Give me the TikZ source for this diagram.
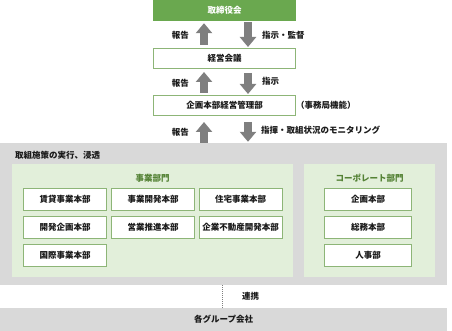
\documentclass[tikz,border=0pt]{standalone}
\usepackage{fontspec}
\setmainfont{Noto Sans CJK JP}
\usetikzlibrary{arrows.meta,calc}
\definecolor{hdr}{HTML}{6AA84F}
\definecolor{boxgreen}{HTML}{8DB577}
\definecolor{panel}{HTML}{E2EFDA}
\definecolor{lgray}{HTML}{D9D9D9}
\definecolor{agray}{HTML}{7F7F7F}
\definecolor{dgreen}{HTML}{548235}
\definecolor{txt}{HTML}{1A1A1A}
\begin{document}
\begin{tikzpicture}[x=1pt,y=-1pt,
  every node/.style={font=\fontsize{8.5}{10}\selectfont\bfseries, text=txt, inner sep=0pt},
  topbox/.style={fill=hdr, minimum width=143pt, minimum height=21pt, text=white},
  mainbox/.style={draw=boxgreen, line width=1pt, fill=white, minimum width=142pt, minimum height=20pt},
  unitbox/.style={draw=boxgreen, line width=1pt, fill=white, minimum width=83pt, minimum height=22pt},
  corpbox/.style={draw=boxgreen, line width=1pt, fill=white, minimum width=87pt, minimum height=22pt},
  grayarea/.style={fill=lgray},
  panelarea/.style={fill=panel},
  blockarrow/.style={draw=agray, line width=8pt, -{Triangle[width=16pt,length=10pt]}},
  lab/.style={},
  paneltitle/.style={text=dgreen},
]
\useasboundingbox (0,0) rectangle (452,331);

% areas
\node[grayarea, minimum width=447pt, minimum height=142pt] (gray) at (223.5,214) {};
\node[grayarea, minimum width=447pt, minimum height=23pt] (group) at (223.5,319.5) {各グループ会社};
\node[panelarea, minimum width=281pt, minimum height=113pt] (bizp) at (152.5,220.5) {};
\node[panelarea, minimum width=131pt, minimum height=113pt] (corpp) at (369.5,220.5) {};

% top chain
\node[topbox] (board) at (224.5,10.5) {取締役会};
\node[mainbox] (kaigi) at (224.5,58.5) {経営会議};
\node[mainbox] (kikaku) at (224.5,105.5) {企画本部経営管理部};
\node[lab, anchor=west] (jimu) at (296,105.5) {（事務局機能）};

% arrows pair 1
\draw[blockarrow] ($(kaigi.north)+(-20.5,-3)$) -- ($(board.south)+(-20.5,2)$);
\draw[blockarrow] ($(board.south)+(23.5,1)$) -- ($(kaigi.north)+(23.5,-1)$);
\node[lab, anchor=east] (r1) at (189,35) {報告};
\node[lab, anchor=west] (s1) at (262,35) {指示・監督};
% arrows pair 2
\draw[blockarrow] ($(kikaku.north)+(-20.5,-2)$) -- ($(kaigi.south)+(-20.5,3)$);
\draw[blockarrow] ($(kaigi.south)+(23.5,4)$) -- ($(kikaku.north)+(23.5,-1)$);
\node[lab, anchor=east] (r2) at (189,83) {報告};
\node[lab, anchor=west] (s2) at (262,81) {指示};
% arrows pair 3
\draw[blockarrow] ($(gray.north)+(-19.5,0)$) -- ($(kikaku.south)+(-20.5,6)$);
\draw[blockarrow] ($(kikaku.south)+(23.5,6)$) -- ($(gray.north)+(24.5,-1)$);
\node[lab, anchor=east] (r3) at (189,132) {報告};
\node[lab, anchor=west] (s3) at (261,130) {指揮・取組状況のモニタリング};

% gray area label
\node[lab, anchor=west] (exec) at (15,155) {取組施策の実行、浸透};

% panel titles
\node[paneltitle] (bizt) at (152.5,178) {事業部門};
\node[paneltitle] (corpt) at (369.5,178) {コーポレート部門};

% business units
\node[unitbox] (u11) at (65,199.5) {賃貸事業本部};
\node[unitbox] (u12) at (153,199.5) {事業開発本部};
\node[unitbox] (u13) at (240.5,199.5) {住宅事業本部};
\node[unitbox] (u21) at (65,227.5) {開発企画本部};
\node[unitbox] (u22) at (153,227.5) {営業推進本部};
\node[unitbox] (u23) at (240.5,227.5) {企業不動産開発本部};
\node[unitbox] (u31) at (65,255) {国際事業本部};

% corporate units
\node[corpbox] (c1) at (368,199.5) {企画本部};
\node[corpbox] (c2) at (368,227.5) {総務本部};
\node[corpbox] (c3) at (368,255) {人事部};

% link
\coordinate (dotx) at (222,0);
\draw[agray, line width=1pt, dash pattern=on 1pt off 1pt] (gray.south -| dotx) -- (group.north -| dotx);
\node[lab, anchor=west] (renkei) at (242,296.5) {連携};
\end{tikzpicture}
\end{document}
